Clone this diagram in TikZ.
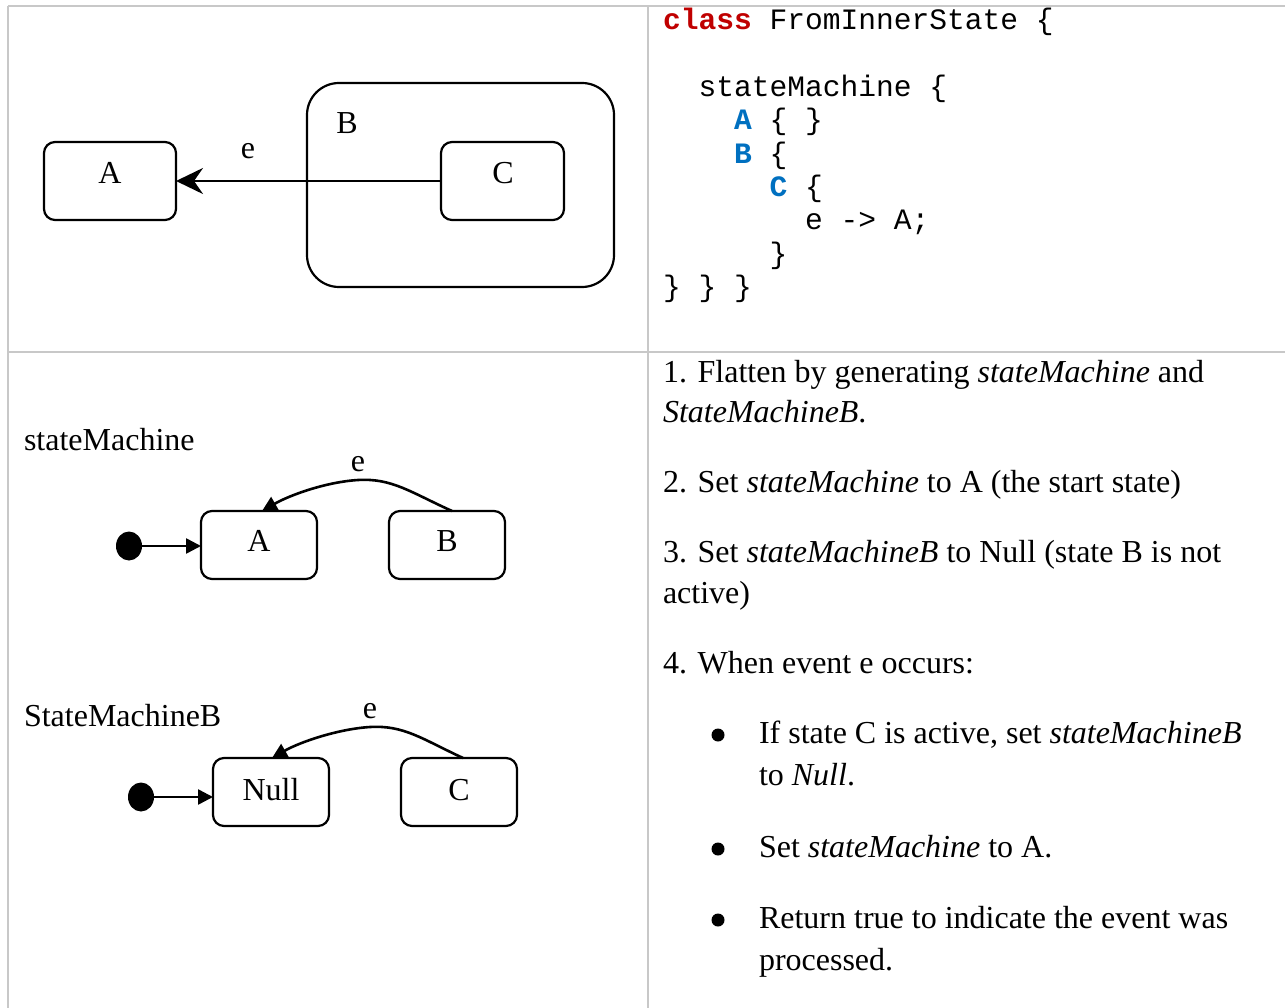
\documentclass[tikz,border=0pt]{standalone}
\usepackage{fontspec}
\setmainfont{Liberation Serif}
\setmonofont{Liberation Mono}
\usetikzlibrary{arrows.meta,shapes.geometric}
\definecolor{kwred}{HTML}{C00000}
\definecolor{kwblue}{HTML}{0070C0}
\definecolor{rulegray}{HTML}{C8C8C8}
\begin{document}
\begin{tikzpicture}[x=1pt,y=-1pt,
  every node/.style={inner sep=0pt, outer sep=0pt},
  txt/.style={anchor=base west, font=\fontsize{32}{40}\selectfont},
  ctxt/.style={anchor=base, font=\fontsize{32}{40}\selectfont},
  code/.style={anchor=base west, font=\fontsize{29.6}{33.4}\selectfont\ttfamily},
  gridline/.style={draw=rulegray, line width=2pt},
  sbox/.style={draw, line width=2.2pt, rounded corners=11pt, minimum width=116pt, minimum height=68pt},
  bigbox/.style={draw, line width=2.2pt, rounded corners=32pt},
  initdot/.style={ellipse, fill=black, minimum width=26pt, minimum height=29pt},
  bul/.style={circle, fill=black, minimum size=13pt},
  tarr/.style={line width=2.6pt, -{Triangle[length=15pt,width=15pt]}},
  sarr/.style={line width=2.8pt, -{Stealth[length=27pt,width=26pt,inset=9pt]}}
]
\useasboundingbox (0,0) rectangle (1285,1008);
\fill[white] (0,0) rectangle (1285,1008);
% table rules
\draw[gridline] (8,6) -- (1285,6);
\draw[gridline] (8,6) -- (8,1008);
\draw[gridline] (648,6) -- (648,1008);
\draw[gridline] (8,352) -- (1285,352);

% ---- top-left diagram
\node[bigbox, minimum width=307pt, minimum height=204pt] (B) at (460.5,185) {};
\node[sbox, minimum width=132pt, minimum height=78pt] (A) at (110,181) {};
\node[sbox, minimum width=123pt, minimum height=78pt] (C) at (502.5,181) {};
\node[ctxt] (lA) at (110,184) {A};
\node[ctxt] (lC) at (503,184) {C};
\node[ctxt] (lB) at (347,134) {B};
\node[ctxt] (le) at (248,159) {e};
\draw[sarr] (C.west) -- (A.east);

% ---- top-right code
\node[code] (c1) at (663,30) {\textbf{\textcolor{kwred}{class}} FromInnerState \{};
\node[code] (c2) at (698.5,96.6) {stateMachine \{};
\node[code] (c3) at (734,129.9) {\textbf{\textcolor{kwblue}{A}} \{ \}};
\node[code] (c4) at (734,163.2) {\textbf{\textcolor{kwblue}{B}} \{};
\node[code] (c5) at (769.6,196.5) {\textbf{\textcolor{kwblue}{C}} \{};
\node[code] (c6) at (805,229.8) {e -> A;};
\node[code] (c7) at (769.6,263.1) {\}};
\node[code] (c8) at (663,296.4) {\} \} \}};

% ---- bottom-left diagrams
\node[txt] (t1) at (24,450) {stateMachine};
\node[initdot] (i1) at (129,546) {};
\node[sbox] (A2) at (259,545) {};
\node[sbox] (B2) at (447,545) {};
\node[ctxt] (lA2) at (259,551) {A};
\node[ctxt] (lB2) at (447,551) {B};
\draw[tarr] (i1) -- (i1 -| A2.west);
\draw[tarr] ([xshift=5pt]B2.north) .. controls (410,492) and (392,478) .. (358,480)
   .. controls (326,482) and (290,495) .. ([xshift=3pt]A2.north);
\node[ctxt] (le2) at (358,471) {e};

\node[txt] (t2) at (24,726) {StateMachineB};
\node[initdot] (i2) at (141,797) {};
\node[sbox] (N2) at (271,792) {};
\node[sbox] (C2) at (459,792) {};
\node[ctxt] (lN2) at (271,800) {Null};
\node[ctxt] (lC2) at (459,800) {C};
\draw[tarr] (i2) -- (i2 -| N2.west);
\draw[tarr] ([xshift=4pt]C2.north) .. controls (422,739) and (404,725) .. (370,727)
   .. controls (338,729) and (300,742) .. ([xshift=1pt]N2.north);
\node[ctxt] (le3) at (370,718) {e};

% ---- bottom-right text
\node[txt] (p1a) at (663,382) {1. Flatten by generating \textit{stateMachine} and};
\node[txt] (p1b) at (663,422) {\textit{StateMachineB}.};
\node[txt] (p2) at (663,492) {2. Set \textit{stateMachine} to A (the start state)};
\node[txt] (p3a) at (663,562) {3. Set \textit{stateMachineB} to Null (state B is not};
\node[txt] (p3b) at (663,603) {active)};
\node[txt] (p4) at (663,673) {4. When event e occurs:};
\node[bul] (d1) at (718,735) {};
\node[txt] (q1a) at (759,743) {If state C is active, set \textit{stateMachineB}};
\node[txt] (q1b) at (759,785) {to \textit{Null}.};
\node[bul] (d2) at (718,849) {};
\node[txt] (q2) at (759,857) {Set \textit{stateMachine} to A.};
\node[bul] (d3) at (718,920) {};
\node[txt] (q3a) at (759,928) {Return true to indicate the event was};
\node[txt] (q3b) at (759,970) {processed.};
\end{tikzpicture}
\end{document}
